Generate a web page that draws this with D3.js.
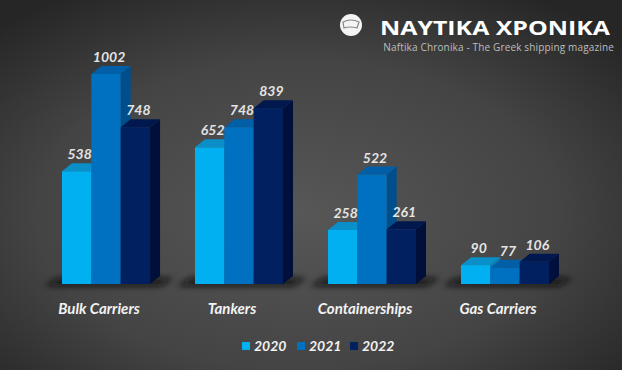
<!DOCTYPE html>
<html>
<head>
<meta charset="utf-8">
<script src="https://cdn.jsdelivr.net/npm/d3@7"></script>
<style>
  html, body { margin: 0; padding: 0; background: #3a3a3a; }
  svg { display: block; }
</style>
</head>
<body>
<svg id="chart" width="622" height="370"></svg>
<script>
"use strict";

// chart data
const categories = ["Bulk Carriers", "Tankers", "Containerships", "Gas Carriers"];
const years = ["2020", "2021", "2022"];
const values2020 = [538, 652, 258, 90];
const values2021 = [1002, 748, 522, 77];
const values2022 = [748, 839, 261, 106];
const seriesValues = [values2020, values2021, values2022];

const frontColors = ["#00b0f0", "#0070c0", "#002060"];
const topColors = ["#0a8fc8", "#005fa6", "#00184e"];
const sideColors = ["#0a7fb5", "#004f8c", "#00103a"];

const svg = d3.select("#chart");
const width = +svg.attr("width"), height = +svg.attr("height");
const defs = svg.append("defs");

// background
const bg = defs.append("radialGradient")
  .attr("id", "bg").attr("cx", "48%").attr("cy", "58%").attr("r", "70%");
bg.append("stop").attr("offset", "0%").attr("stop-color", "#575757");
bg.append("stop").attr("offset", "60%").attr("stop-color", "#444444");
bg.append("stop").attr("offset", "100%").attr("stop-color", "#262626");
svg.append("rect").attr("width", width).attr("height", height).attr("fill", "url(#bg)");

defs.append("filter").attr("id", "blur")
  .attr("x", "-20%").attr("y", "-200%").attr("width", "140%").attr("height", "500%")
  .append("feGaussianBlur").attr("stdDeviation", 3);

// scales
const floorY = 284;
const x0 = d3.scaleBand().domain(categories).range([62, 549]).paddingInner(0.338).paddingOuter(0);
const x1 = d3.scaleBand().domain(years).range([0, x0.bandwidth()]);
const y = d3.scaleLinear().domain([0, 1002]).range([floorY, 74]);
const dx = 10, dy = -8;

// floor shadows
svg.append("g").selectAll("path")
  .data(categories)
  .join("path")
  .attr("d", c => {
    const l = x0(c), r = x0(c) + x0.bandwidth() + dx;
    return `M${l - 18},${floorY + 2} L${l - 4},${floorY - 6} L${r + 14},${floorY - 6} L${r},${floorY + 2} Z`;
  })
  .attr("fill", "#111")
  .attr("opacity", 0.85)
  .attr("filter", "url(#blur)");

// 3d bars
const groups = svg.append("g").selectAll("g")
  .data(categories)
  .join("g")
  .attr("transform", c => `translate(${x0(c)},0)`);

years.forEach((yr, si) => {
  const bars = groups.append("g");
  const w = x1.bandwidth();
  // side face
  bars.append("path")
    .attr("d", (c, ci) => {
      const xr = x1(yr) + w, yt = y(seriesValues[si][ci]);
      return `M${xr},${yt} L${xr + dx},${yt + dy} L${xr + dx},${floorY + dy} L${xr},${floorY} Z`;
    })
    .attr("fill", sideColors[si]);
  // top face
  bars.append("path")
    .attr("d", (c, ci) => {
      const xl = x1(yr), yt = y(seriesValues[si][ci]);
      return `M${xl},${yt} L${xl + dx},${yt + dy} L${xl + w + dx},${yt + dy} L${xl + w},${yt} Z`;
    })
    .attr("fill", topColors[si]);
  // front face
  bars.append("rect")
    .attr("x", x1(yr))
    .attr("y", (c, ci) => y(seriesValues[si][ci]))
    .attr("width", w)
    .attr("height", (c, ci) => floorY - y(seriesValues[si][ci]))
    .attr("fill", frontColors[si]);
});

// value labels
years.forEach((yr, si) => {
  groups.append("text")
    .attr("x", x1(yr) + x1.bandwidth() / 2 + 3)
    .attr("y", (c, ci) => y(seriesValues[si][ci]) + dy - 4)
    .attr("text-anchor", "middle")
    .attr("font-family", "Lato, 'Open Sans', sans-serif")
    .attr("font-weight", "bold")
    .attr("font-style", "italic")
    .attr("font-size", 14)
    .attr("fill", "#e4e4e4")
    .text((c, ci) => seriesValues[si][ci]);
});

// category labels
svg.append("g").selectAll("text")
  .data(categories)
  .join("text")
  .attr("x", c => x0(c) + x0.bandwidth() / 2 - 7)
  .attr("y", 314)
  .attr("text-anchor", "middle")
  .attr("font-family", "Lato, 'Open Sans', sans-serif")
  .attr("font-weight", "bold")
  .attr("font-style", "italic")
  .attr("font-size", 15)
  .attr("fill", "#f2f2f2")
  .text(c => c);

// legend
const legend = svg.append("g").attr("transform", "translate(242,342)");
const legendX = [0, 55, 108];
years.forEach((yr, i) => {
  legend.append("rect").attr("x", legendX[i]).attr("y", 0).attr("width", 8).attr("height", 8)
    .attr("fill", frontColors[i]);
  legend.append("text").attr("x", legendX[i] + 12).attr("y", 9)
    .attr("font-family", "Lato, 'Open Sans', sans-serif")
    .attr("font-weight", "bold").attr("font-style", "italic").attr("font-size", 14)
    .attr("fill", "#f2f2f2").text(yr);
});

// logo
const logo = svg.append("g");
logo.append("circle").attr("cx", 351).attr("cy", 25).attr("r", 11).attr("fill", "#f4f4f4");
logo.append("path")
  .attr("d", "M343,22 Q351,18 359,22 L357,28 Q350,26 344,28 Z")
  .attr("fill", "none").attr("stroke", "#888").attr("stroke-width", 1.2);
logo.append("text")
  .attr("x", 380).attr("y", 35)
  .attr("font-family", "'Open Sans', sans-serif")
  .attr("font-weight", "bold").attr("font-size", 20)
  .attr("textLength", 230).attr("lengthAdjust", "spacingAndGlyphs")
  .attr("fill", "#ffffff").text("NAYTIKA XPONIKA");
logo.append("text")
  .attr("x", 614).attr("y", 51)
  .attr("text-anchor", "end")
  .attr("font-family", "'Open Sans', sans-serif")
  .attr("font-size", 10)
  .attr("letter-spacing", 0.15)
  .attr("fill", "#bdbdbd").text("Naftika Chronika - The Greek shipping magazine");
</script>
</body>
</html>
